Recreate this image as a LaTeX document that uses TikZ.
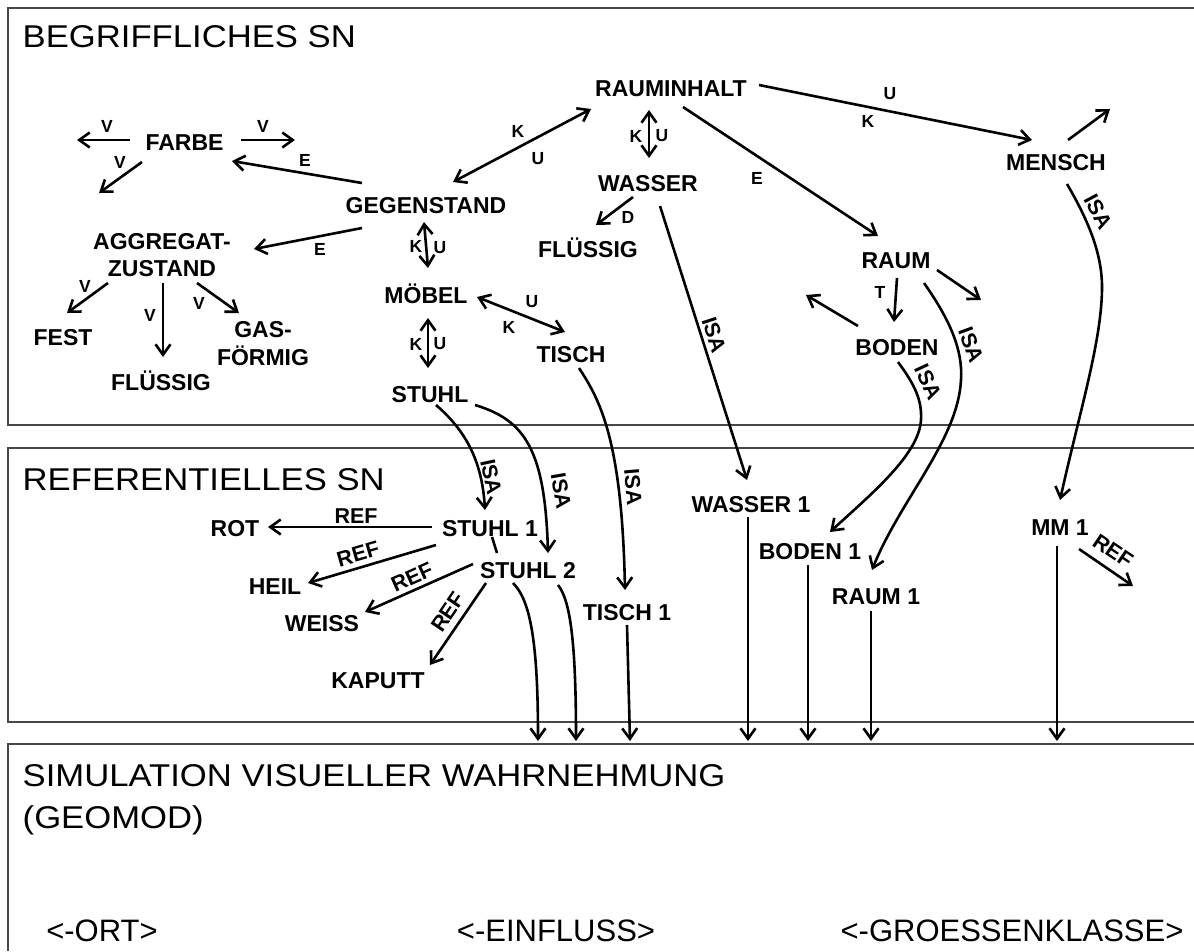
\documentclass[tikz,border=0pt]{standalone}
\usepackage{fontspec}
\setmainfont{Liberation Sans}
\usetikzlibrary{arrows.meta}

\begin{document}
\begin{tikzpicture}[x=1pt,y=-1pt,
  concept/.style={font=\bfseries\fontsize{23}{27}\selectfont, inner sep=0pt, text height=16.5pt, text depth=0pt},
  concepttwo/.style={font=\bfseries\fontsize{23}{27.3}\selectfont, inner sep=0pt, align=center},
  relsmall/.style={font=\bfseries\fontsize{17.5}{19}\selectfont, inner sep=0pt},
  rellong/.style={font=\bfseries\fontsize{21.5}{24}\selectfont, inner sep=0pt},
  tip/.tip={Straight Barb[length=10.5pt,width=15pt]},
  link/.style={line width=2.6pt, -tip},
  linktwo/.style={line width=2.6pt, tip-tip},
  tick/.style={line width=2.6pt},
  panel/.style={line width=2.2pt, draw=black!72},
  heading/.style={font=\fontsize{31.5}{36}\selectfont, inner sep=0pt, anchor=base west, xscale=1.1},
  slot/.style={font=\fontsize{31}{36}\selectfont, inner sep=0pt, anchor=base},
]
\useasboundingbox (0,0) rectangle (1194,951);
\fill[white] (0,0) rectangle (1194,951);

% the three layers
\draw[panel] (1194,8) -- (8,8) -- (8,425) -- (1194,425);
\draw[panel] (1194,448) -- (8,448) -- (8,722) -- (1194,722);
\draw[panel] (1194,744) -- (8,744) -- (8,951);

\node[heading] (tBegriff) at (22.5,47) {BEGRIFFLICHES SN};
\node[heading] (tRef) at (22.5,490) {REFERENTIELLES SN};
\node[heading] (tSim) at (22.5,786) {SIMULATION VISUELLER WAHRNEHMUNG};
\node[heading] (tGeo) at (22.5,828) {(GEOMOD)};
\node[slot] (sOrt) at (102,941) {<-ORT>};
\node[slot] (sEin) at (556,941) {<-EINFLUSS>};
\node[slot] (sGro) at (1012,941) {<-GROESSENKLASSE>};

% conceptual network
\node[concept] (farbe) at (184.5,142) {FARBE};
\node[concepttwo] (aggregat) at (162,255) {AGGREGAT-\\ZUSTAND};
\node[concept] (fest) at (63,337) {FEST};
\node[concept] (fluessigA) at (161,382) {FLÜSSIG};
\node[concepttwo] (gasf) at (263,343.5) {GAS-\\FÖRMIG};
\node[concept] (gegenstand) at (426,205) {GEGENSTAND};
\node[concept] (rauminhalt) at (671,88) {RAUMINHALT};
\node[concept] (wasser) at (648,183) {WASSER};
\node[concept] (fluessigB) at (588,249) {FLÜSSIG};
\node[concept] (moebel) at (426,295) {MÖBEL};
\node[concept] (tisch) at (571,354) {TISCH};
\node[concept] (stuhl) at (430,394) {STUHL};
\node[concept] (raum) at (896,260) {RAUM};
\node[concept] (boden) at (897,347) {BODEN};
\node[concept] (mensch) at (1056,162) {MENSCH};

% referential network
\node[concept] (stuhl1) at (490,528) {STUHL 1};
\node[concept] (stuhl2) at (528,570) {STUHL 2};
\node[concept] (rot) at (235,528) {ROT};
\node[concept] (heil) at (275,586) {HEIL};
\node[concept] (weiss) at (322,623) {WEISS};
\node[concept] (kaputt) at (378,680) {KAPUTT};
\node[concept] (tisch1) at (627,612) {TISCH 1};
\node[concept] (wasser1) at (751,504) {WASSER 1};
\node[concept] (boden1) at (810,551) {BODEN 1};
\node[concept] (raum1) at (876,596) {RAUM 1};
\node[concept] (mm1) at (1060,527) {MM 1};

% free ends
\coordinate (farbeL) at (77,140);
\coordinate (farbeR) at (295,140);
\coordinate (farbeD) at (99,193);
\coordinate (menschU) at (1110,109);
\coordinate (raumR) at (981,300);
\coordinate (bodenL) at (806,295);
\coordinate (mmRef) at (1133,586);
\coordinate (in1) at (538,741);
\coordinate (in2) at (576,741);
\coordinate (in3) at (630,741);
\coordinate (in4) at (748,741);
\coordinate (in5) at (808,741);
\coordinate (in6) at (871,741);
\coordinate (in7) at (1057,741);

% connectors of the conceptual network
\draw[link] ([shift={(-54.5,-2)}]farbe.center) -- (farbeL);
\draw[link] ([shift={(56.5,-2)}]farbe.center) -- (farbeR);
\draw[link] ([shift={(-42.5,20)}]farbe.center) -- (farbeD);
\draw[link] ([shift={(-64,-22)}]gegenstand.center) -- ([shift={(47.5,19)}]farbe.center);
\draw[link] ([shift={(-64,23)}]gegenstand.center) -- ([shift={(92,-6)}]aggregat.center);
\draw[link] ([shift={(-54,28)}]aggregat.center) -- ([shift={(4,-24)}]fest.center);
\draw[link] ([shift={(1,28)}]aggregat.center) -- ([shift={(2,-25)}]fluessigA.center);
\draw[link] ([shift={(35,28)}]aggregat.center) -- ([shift={(-24,-30.5)}]gasf.center);
\draw[linktwo] ([shift={(27,-23)}]gegenstand.center) -- ([shift={(-80,21)}]rauminhalt.center);
\draw[linktwo] ([shift={(-22,22)}]rauminhalt.center) -- ([shift={(1,-25)}]wasser.center);
\draw[link] ([shift={(-15,14)}]wasser.center) -- ([shift={(8,-24)}]fluessigB.center);
\draw[link] ([shift={(88,-3)}]rauminhalt.center) -- ([shift={(-24,-22)}]mensch.center);
\draw[link] ([shift={(12,19)}]rauminhalt.center) -- ([shift={(-18,-24)}]raum.center);
\draw[link] ([shift={(12,-22)}]mensch.center) -- (menschU);
\draw[linktwo] ([shift={(2,-27)}]moebel.center) -- ([shift={(-2,17)}]gegenstand.center);
\draw[linktwo] ([shift={(51,2)}]moebel.center) -- ([shift={(-6,-22)}]tisch.center);
\draw[linktwo] ([shift={(2,23)}]moebel.center) -- ([shift={(-2,-26)}]stuhl.center);
\draw[link] ([shift={(1,18)}]raum.center) -- ([shift={(-3,-25)}]boden.center);
\draw[link] ([shift={(41,10)}]raum.center) -- (raumR);
\draw[link] ([shift={(-39,-21)}]boden.center) -- (bodenL);

% ISA links into the referential network
\draw[link] ([shift={(12,23)}]wasser.center) -- ([shift={(-4,-24)}]wasser1.center);
\draw[link] ([shift={(11,22)}]mensch.center) .. controls (1085,215) and (1102,250) .. (1102,287)
   .. controls (1102,340) and (1080,410) .. ([shift={(0,-27)}]mm1.center);
\draw[link] ([shift={(28,23)}]raum.center) .. controls (950,320) and (963,350) .. (961,380)
   .. controls (958,440) and (900,500) .. ([shift={(-4,-26)}]raum1.center);
\draw[link] ([shift={(1,15)}]boden.center) .. controls (915,385) and (922,400) .. (921,420)
   .. controls (919,455) and (870,495) .. ([shift={(20,-19)}]boden1.center);
\draw[link] ([shift={(6,11)}]stuhl.center) .. controls (465,430) and (482,460) .. ([shift={(-5,-18)}]stuhl1.center);
\draw[link] ([shift={(45,11)}]stuhl.center) .. controls (525,420) and (545,450) .. ([shift={(20,-17)}]stuhl2.center);
\draw[link] ([shift={(8,14)}]tisch.center) .. controls (600,400) and (622,440) .. ([shift={(-2,-22)}]tisch1.center);

% referential network
\draw[link] ([shift={(-58,-1)}]stuhl1.center) -- ([shift={(33,-1)}]rot.center);
\draw[link] ([shift={(-54,17)}]stuhl1.center) -- ([shift={(33,-3)}]heil.center);
\draw[tick] ([shift={(2,9)}]stuhl1.center) -- ([shift={(-31,-17)}]stuhl2.center);
\draw[link] ([shift={(-55,-6)}]stuhl2.center) -- ([shift={(43,-11)}]weiss.center);
\draw[link] ([shift={(-42,13)}]stuhl2.center) -- ([shift={(52,-15)}]kaputt.center);
\draw[link] ([shift={(19,22)}]mm1.center) -- (mmRef);

% links down to the visual simulation
\draw[link] ([shift={(-15,13)}]stuhl2.center) .. controls (530,600) and (538,640) .. (in1);
\draw[link] ([shift={(30,15)}]stuhl2.center) .. controls (570,600) and (576,640) .. (in2);
\draw[link] ([shift={(0,13)}]tisch1.center) -- (in3);
\draw[link] ([shift={(-3,13)}]wasser1.center) -- (in4);
\draw[link] ([shift={(-2,14)}]boden1.center) -- (in5);
\draw[link] ([shift={(-5,15)}]raum1.center) -- (in6);
\draw[link] ([shift={(-3,19)}]mm1.center) -- (in7);

% relation labels
\node[relsmall] (lv1) at (107,126) {V};
\node[relsmall] (lv2) at (263,126) {V};
\node[relsmall] (lv3) at (120,162) {V};
\node[relsmall] (le1) at (305,160) {E};
\node[relsmall] (le2) at (320,249) {E};
\node[relsmall] (lv4) at (85,286) {V};
\node[relsmall] (lv5) at (150,315) {V};
\node[relsmall] (lv6) at (199,303) {V};
\node[relsmall] (lk1) at (518,131) {K};
\node[relsmall] (lu1) at (538,159) {U};
\node[relsmall] (lk2) at (636,136) {K};
\node[relsmall] (lu2) at (662,136) {U};
\node[relsmall] (ld) at (628,217) {D};
\node[relsmall] (lk3) at (416,246) {K};
\node[relsmall] (lu3) at (440,248) {U};
\node[relsmall] (lk4) at (416,344) {K};
\node[relsmall] (lu4) at (440,344) {U};
\node[relsmall] (lu5) at (532,302) {U};
\node[relsmall] (lk5) at (509,327) {K};
\node[relsmall] (lu6) at (890,94) {U};
\node[relsmall] (lk6) at (868,121) {K};
\node[relsmall] (le3) at (757,178) {E};
\node[relsmall] (lt) at (880,292) {T};

\node[rellong, rotate=-72] (isa1) at (714,335) {ISA};
\node[rellong, rotate=-62] (isa2) at (1098,212) {ISA};
\node[rellong, rotate=-70] (isa3) at (971,345) {ISA};
\node[rellong, rotate=-65] (isa4) at (928,382) {ISA};
\node[rellong, rotate=-78] (isa5) at (491,477) {ISA};
\node[rellong, rotate=-80] (isa6) at (561,491) {ISA};
\node[rellong, rotate=-85] (isa7) at (633,487) {ISA};

\node[rellong] (ref1) at (356,516) {REF};
\node[rellong, rotate=16] (ref2) at (358,554) {REF};
\node[rellong, rotate=24] (ref3) at (412,577) {REF};
\node[rellong, rotate=56] (ref4) at (448,612) {REF};
\node[rellong, rotate=-34] (ref5) at (1113,551) {REF};
\end{tikzpicture}
\end{document}
